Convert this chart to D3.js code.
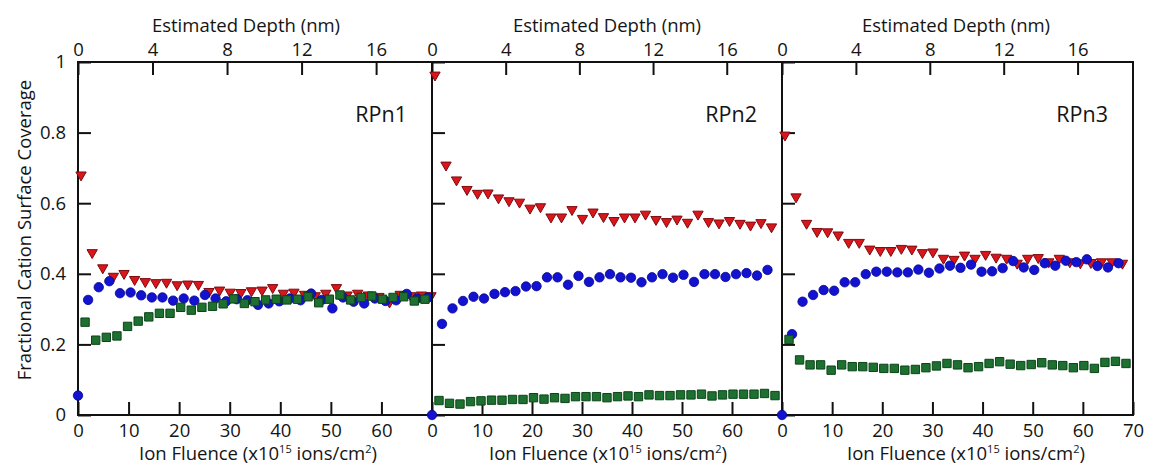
<!DOCTYPE html>
<html>
<head>
<meta charset="utf-8">
<script src="https://cdn.jsdelivr.net/npm/d3@7"></script>
<style>
  body { margin: 0; background: #fff; }
  svg { display: block; }
  text { font-family: "Open Sans", "Noto Sans", sans-serif; fill: #141414; }
</style>
</head>
<body>
<svg id="chart" width="1149" height="466"></svg>
<script>
// ---- data -------------------------------------------------------------
const panelNames = ["RPn1", "RPn2", "RPn3"];

const fluenceTicksByPanel = [
  [0, 10, 20, 30, 40, 50, 60],
  [0, 10, 20, 30, 40, 50, 60],
  [0, 10, 20, 30, 40, 50, 60, 70]
];
const depthTicks = [0, 4, 8, 12, 16];
const coverageTicks = [0, 0.2, 0.4, 0.6, 0.8, 1];
const coverageTickLabels = ["0", "0.2", "0.4", "0.6", "0.8", "1"];

// ion fluence (x10^15 ions/cm^2) at which each species was sampled
const fluenceBlue = [0, 2.0, 4.1, 6.2, 8.3, 10.4, 12.5, 14.6, 16.7, 18.8, 20.9, 23.0, 25.1, 27.2,
  29.3, 31.4, 33.5, 35.6, 37.7, 39.8, 41.9, 44.0, 46.1, 48.2, 50.3, 52.4, 54.5, 56.6, 58.7,
  60.8, 62.9, 65.0, 67.1, 69.2];
const fluenceRed = [0.6, 2.8, 4.9, 7.0, 9.1, 11.2, 13.3, 15.4, 17.5, 19.6, 21.7, 23.8, 25.9, 28.0,
  30.1, 32.2, 34.3, 36.4, 38.5, 40.6, 42.7, 44.8, 46.9, 49.0, 51.1, 53.2, 55.3, 57.4, 59.5,
  61.6, 63.7, 65.8, 67.9, 69.8];
const fluenceGreen = [1.4, 3.5, 5.6, 7.7, 9.8, 11.9, 14.0, 16.1, 18.2, 20.3, 22.4, 24.5, 26.6,
  28.7, 30.8, 32.9, 35.0, 37.1, 39.2, 41.3, 43.4, 45.5, 47.6, 49.7, 51.8, 53.9, 56.0, 58.1,
  60.2, 62.3, 64.4, 66.5, 68.6];

// fractional cation surface coverage
const rpn1Blue = [0.055, 0.326, 0.362, 0.379, 0.345, 0.347, 0.339, 0.333, 0.333, 0.324, 0.330,
  0.324, 0.340, 0.330, 0.322, 0.328, 0.325, 0.312, 0.316, 0.322, 0.330, 0.325, 0.344, 0.326,
  0.302, 0.333, 0.321, 0.316, 0.330, 0.323, 0.325, 0.343, 0.330, 0.333];
const rpn1Red = [0.680, 0.460, 0.417, 0.393, 0.401, 0.384, 0.378, 0.375, 0.376, 0.369, 0.371,
  0.370, 0.350, 0.354, 0.348, 0.347, 0.352, 0.354, 0.361, 0.345, 0.348, 0.342, 0.338, 0.345,
  0.361, 0.340, 0.345, 0.340, 0.336, 0.320, 0.342, 0.338, 0.340, 0.338];
const rpn1Green = [0.263, 0.212, 0.220, 0.224, 0.251, 0.266, 0.278, 0.288, 0.288, 0.305, 0.297,
  0.305, 0.308, 0.315, 0.329, 0.316, 0.321, 0.326, 0.328, 0.326, 0.328, 0.335, 0.318, 0.328,
  0.340, 0.326, 0.333, 0.337, 0.328, 0.333, 0.335, 0.323, 0.328];

const rpn2Blue = [0, 0.258, 0.302, 0.323, 0.335, 0.330, 0.343, 0.348, 0.351, 0.364, 0.365, 0.390,
  0.390, 0.369, 0.394, 0.377, 0.390, 0.399, 0.390, 0.389, 0.376, 0.390, 0.399, 0.389, 0.397,
  0.377, 0.399, 0.399, 0.391, 0.399, 0.402, 0.395, 0.411];
const rpn2Red = [0.963, 0.708, 0.666, 0.639, 0.628, 0.629, 0.615, 0.607, 0.603, 0.586, 0.590,
  0.561, 0.561, 0.582, 0.557, 0.575, 0.562, 0.551, 0.561, 0.561, 0.569, 0.554, 0.548, 0.555,
  0.546, 0.569, 0.548, 0.544, 0.551, 0.543, 0.538, 0.545, 0.533];
const rpn2Green = [0.041, 0.033, 0.031, 0.038, 0.040, 0.042, 0.042, 0.044, 0.044, 0.049, 0.045,
  0.049, 0.047, 0.052, 0.052, 0.052, 0.049, 0.052, 0.054, 0.052, 0.057, 0.055, 0.055, 0.057,
  0.057, 0.059, 0.054, 0.057, 0.059, 0.059, 0.059, 0.061, 0.055];

const rpn3Blue = [0, 0.229, 0.321, 0.340, 0.354, 0.352, 0.376, 0.376, 0.399, 0.406, 0.406, 0.404,
  0.404, 0.412, 0.403, 0.415, 0.423, 0.417, 0.426, 0.406, 0.407, 0.416, 0.436, 0.418, 0.411,
  0.430, 0.423, 0.437, 0.433, 0.441, 0.422, 0.418, 0.430];
const rpn3Red = [0.793, 0.618, 0.543, 0.520, 0.519, 0.510, 0.489, 0.489, 0.470, 0.466, 0.466,
  0.472, 0.470, 0.460, 0.462, 0.444, 0.441, 0.453, 0.444, 0.455, 0.447, 0.444, 0.430, 0.444,
  0.446, 0.434, 0.444, 0.434, 0.431, 0.432, 0.434, 0.434, 0.430];
const rpn3Green = [0.214, 0.156, 0.142, 0.142, 0.127, 0.142, 0.137, 0.137, 0.135, 0.132, 0.132,
  0.127, 0.129, 0.134, 0.139, 0.146, 0.142, 0.134, 0.137, 0.146, 0.151, 0.144, 0.140, 0.143,
  0.148, 0.142, 0.140, 0.134, 0.140, 0.132, 0.149, 0.152, 0.146];

const fluenceMax = 70;
const depthMax = 19.0;

// ---- layout -----------------------------------------------------------
const W = 1149, H = 466;
const plotTop = 62, plotBottom = 415;
const panelEdges = [78, 432, 782, 1133];
const topTitleCenter = [246, 607, 956];
const bottomTitleCenter = [258, 608, 966];

const red = { fill: "#d8161b", stroke: "#7e0b10" };
const blue = { fill: "#1212d0", stroke: "#08088e" };
const green = { fill: "#1e7030", stroke: "#0b4419" };

const svg = d3.select("#chart");
svg.append("rect").attr("width", W).attr("height", H).attr("fill", "#fff");

const y = d3.scaleLinear().domain([0, 1]).range([plotBottom, plotTop]);

const panels = [
  { name: panelNames[0], blue: rpn1Blue, red: rpn1Red, green: rpn1Green },
  { name: panelNames[1], blue: rpn2Blue, red: rpn2Red, green: rpn2Green },
  { name: panelNames[2], blue: rpn3Blue, red: rpn3Red, green: rpn3Green }
];

function styleAxis(sel) {
  sel.select(".domain").remove();
  sel.selectAll(".tick line").attr("stroke", "#111").attr("stroke-width", 2);
  sel.selectAll(".tick text").attr("font-size", 18.5).attr("fill", "#141414")
    .attr("font-family", '"Open Sans", "Noto Sans", sans-serif');
  sel.attr("font-family", null).attr("font-size", null);
}

const triangleDown = d3.symbol().type(d3.symbolTriangle).size(46);
const circle = d3.symbol().type(d3.symbolCircle).size(70);
const square = d3.symbol().type(d3.symbolSquare).size(70);

panels.forEach((p, i) => {
  const x0 = panelEdges[i], x1 = panelEdges[i + 1];
  const x = d3.scaleLinear().domain([0, fluenceMax]).range([x0, x1]);
  const depth = d3.scaleLinear().domain([0, depthMax]).range([x0, x1]);
  const g = svg.append("g").attr("class", "panel");

  // bottom: ion fluence
  g.append("g").attr("transform", `translate(0,${plotBottom})`)
    .call(d3.axisBottom(x).tickValues(fluenceTicksByPanel[i]).tickFormat(d3.format("d"))
      .tickSizeInner(-13).tickSizeOuter(0).tickPadding(9))
    .call(styleAxis);

  // top: estimated depth
  g.append("g").attr("transform", `translate(0,${plotTop})`)
    .call(d3.axisTop(depth).tickValues(depthTicks).tickFormat(d3.format("d"))
      .tickSizeInner(-13).tickSizeOuter(0).tickPadding(6))
    .call(styleAxis);

  // left: coverage (labels on the first panel only)
  g.append("g").attr("transform", `translate(${x0},0)`)
    .call(d3.axisLeft(y).tickValues(coverageTicks)
      .tickFormat((d, k) => i === 0 ? coverageTickLabels[k] : "")
      .tickSizeInner(-13).tickSizeOuter(0).tickPadding(12))
    .call(styleAxis);

  // frame
  g.append("rect")
    .attr("x", x0).attr("y", plotTop)
    .attr("width", x1 - x0).attr("height", plotBottom - plotTop)
    .attr("fill", "none").attr("stroke", "#111").attr("stroke-width", 2);

  // axis titles
  g.append("text")
    .attr("x", topTitleCenter[i]).attr("y", 32)
    .attr("text-anchor", "middle").attr("font-size", 18.5)
    .text("Estimated Depth (nm)");

  const bt = g.append("text")
    .attr("x", bottomTitleCenter[i]).attr("y", 460)
    .attr("text-anchor", "middle").attr("font-size", 18.5);
  bt.append("tspan").text("Ion Fluence (x10");
  bt.append("tspan").attr("font-size", 11).attr("dy", -7).text("15");
  bt.append("tspan").attr("dy", 7).text(" ions/cm");
  bt.append("tspan").attr("font-size", 11).attr("dy", -7).text("2");
  bt.append("tspan").attr("dy", 7).text(")");

  // sample label
  g.append("text")
    .attr("x", x1 - 25).attr("y", 122)
    .attr("text-anchor", "end").attr("font-size", 21.5)
    .text(p.name);

  // data marks
  const marks = g.append("g");
  marks.selectAll("path.red").data(p.red).join("path")
    .attr("class", "red")
    .attr("d", triangleDown)
    .attr("transform", (d, k) => `translate(${x(fluenceRed[k])},${y(d)}) rotate(180)`)
    .attr("fill", red.fill).attr("stroke", red.stroke).attr("stroke-width", 1);
  marks.selectAll("path.blue").data(p.blue).join("path")
    .attr("class", "blue")
    .attr("d", circle)
    .attr("transform", (d, k) => `translate(${x(fluenceBlue[k])},${y(d)})`)
    .attr("fill", blue.fill).attr("stroke", blue.stroke).attr("stroke-width", 0.8);
  marks.selectAll("path.green").data(p.green).join("path")
    .attr("class", "green")
    .attr("d", square)
    .attr("transform", (d, k) => `translate(${x(fluenceGreen[k])},${y(d)})`)
    .attr("fill", green.fill).attr("stroke", green.stroke).attr("stroke-width", 1);
});

// shared y-axis title
svg.append("text")
  .attr("transform", `translate(31,230) rotate(-90)`)
  .attr("text-anchor", "middle").attr("font-size", 18.5)
  .text("Fractional Cation Surface Coverage");
</script>
</body>
</html>
